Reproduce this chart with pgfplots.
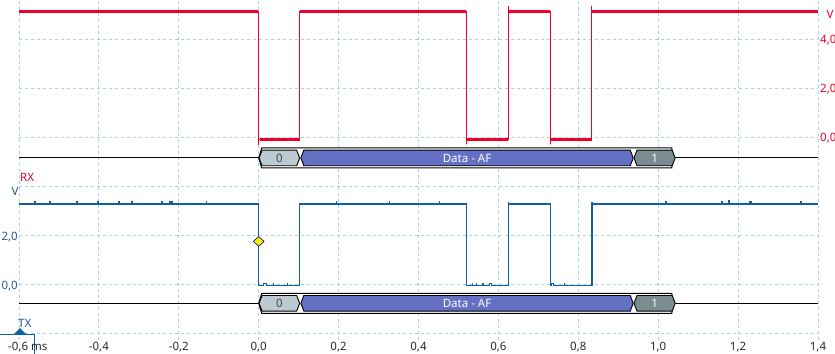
\documentclass[border=0pt]{standalone}
\usepackage{pgfplots}
\pgfplotsset{compat=1.18}
\usepackage{fontspec}
\setmainfont{Noto Sans}
\definecolor{rxred}{RGB}{238,0,40}
\definecolor{txblue}{RGB}{16,96,168}
\definecolor{txlab}{RGB}{30,90,160}
\definecolor{gridc}{RGB}{165,212,226}
\definecolor{seg0}{RGB}{188,202,210}
\definecolor{segd}{RGB}{100,112,196}
\definecolor{seg1}{RGB}{122,140,144}
\definecolor{ticktxt}{RGB}{40,40,40}
\definecolor{zerotxt}{RGB}{64,72,80}
\pgfplotsset{common/.style={width=799bp,height=340bp,scale only axis,
  xmin=-0.6,xmax=1.4, axis line style={draw=none}, major tick length=0pt,
  tick style={draw=none}, clip=false, at={(0,0)}, anchor=south west}}
\begin{document}
\fontsize{11.5bp}{13bp}\selectfont
\begin{tikzpicture}
\useasboundingbox (-19bp,-14bp) rectangle (816bp,340bp);
% ---------- RX axis (grid, right labels, x labels) ----------
\begin{axis}[common, ymin=-8.2857, ymax=5.5918,
  xtick={-0.6,-0.4,-0.2,0,0.2,0.4,0.6,0.8,1.0,1.2,1.4},
  xticklabels={{},{-0,4},{-0,2},{0,0},{0,2},{0,4},{0,6},{0,8},{1,0},{1,2},{1,4}},
  ytick={-8,-6,-4,-2,0,2,4},
  yticklabels={{},{},{},{},{0,0},{2,0},{4,0}},
  yticklabel pos=right,
  grid=major, grid style={dash pattern=on 3bp off 3bp, color=gridc, line width=0.9bp},
  x tick label style={anchor=base, yshift=-10bp, text=ticktxt, inner sep=0pt},
  y tick label style={anchor=base west, xshift=2bp, yshift=-4.2bp, text=rxred, inner sep=0pt},
  unbounded coords=jump]
\addplot[rxred, line width=1bp] coordinates {(-0.6,5.12)(0,5.12)(0,-0.33)(0,-0.09)(0.1025,-0.09)(0.1025,5.12)(0.52,5.12)(0.52,-0.30)(0.52,-0.09)(0.625,-0.09)(0.625,5.35)(0.625,5.12)(0.73,5.12)(0.73,-0.30)(0.73,-0.09)(0.834,-0.09)(0.834,5.35)(0.834,5.12)(1.4,5.12)};
\addplot[rxred, line width=2.7bp, line cap=butt] coordinates {(-0.6,5.12)(-0.001,5.12)(0,nan)(0.002,-0.09)(0.1025,-0.09)(0.11,nan)(0.1025,5.12)(0.52,5.12)(0.53,nan)(0.52,-0.09)(0.625,-0.09)(0.63,nan)(0.625,5.12)(0.73,5.12)(0.74,nan)(0.73,-0.09)(0.834,-0.09)(0.84,nan)(0.834,5.12)(1.4,5.12)};
\end{axis}
% ---------- TX axis (left labels) ----------
\begin{axis}[common, ymin=-2.2449, ymax=11.6327,
  xtick=\empty, ytick={0,2}, yticklabels={{0,0},{2,0}},
  y tick label style={anchor=base east, xshift=-1bp, yshift=-4.2bp, text=txlab, inner sep=0pt}]
\addplot[txblue, line width=1.4bp] coordinates {
(-0.6,3.3)
(-0.56,3.3)(-0.56,3.42)(-0.56,3.3)
(-0.5225,3.3)(-0.5225,3.42)(-0.5225,3.3)
(-0.455,3.3)(-0.455,3.42)(-0.455,3.3)
(-0.4025,3.3)(-0.4025,3.42)(-0.4025,3.3)
(-0.351,3.3)(-0.351,3.42)(-0.348,3.42)(-0.348,3.3)
(-0.3175,3.3)(-0.3175,3.42)(-0.3175,3.3)
(-0.2425,3.3)(-0.2425,3.42)(-0.2425,3.3)
(-0.2225,3.3)(-0.2225,3.42)(-0.2225,3.3)
(-0.2175,3.3)(-0.2175,3.42)(-0.2175,3.3)
(-0.13,3.3)(-0.13,3.42)(-0.13,3.3)
(0,3.3)(0,-0.02)
(0.0125,-0.02)(0.0125,0.06)(0.02,0.06)(0.02,-0.02)
(0.0375,-0.02)(0.0375,0.08)(0.0375,-0.02)
(0.0725,-0.02)(0.0725,0.08)(0.0725,-0.02)
(0.1025,-0.02)(0.1025,3.3)
(0.195,3.3)(0.195,3.42)(0.195,3.3)
(0.3275,3.3)(0.3275,3.42)(0.3275,3.3)
(0.4525,3.3)(0.4525,3.42)(0.4525,3.3)
(0.52,3.3)(0.52,-0.02)
(0.535,-0.02)(0.535,0.07)(0.535,-0.02)
(0.545,-0.02)(0.545,0.07)(0.545,-0.02)
(0.56,-0.02)(0.56,0.07)(0.5625,0.07)(0.5625,-0.02)
(0.5775,-0.02)(0.5775,0.07)(0.5825,0.07)(0.5825,-0.02)
(0.625,-0.02)(0.625,3.38)(0.625,3.3)
(0.73,3.3)(0.73,-0.02)
(0.7325,-0.02)(0.7325,0.07)(0.7375,0.07)(0.7375,-0.02)
(0.765,-0.02)(0.765,0.08)(0.765,-0.02)
(0.834,-0.02)(0.834,3.38)(0.834,3.3)
(1.02,3.3)(1.02,3.42)(1.02,3.3)
(1.16,3.3)(1.16,3.42)(1.16,3.3)
(1.176,3.3)(1.176,3.44)(1.179,3.44)(1.179,3.3)
(1.23,3.3)(1.23,3.42)(1.2325,3.42)(1.2325,3.3)
(1.3575,3.3)(1.3575,3.42)(1.3575,3.3)
(1.4,3.3)};
\addplot[only marks, mark=diamond*, mark size=4.8bp,
  mark options={xscale=1.5, fill=yellow, draw=blue!55!black, line width=0.6bp}]
  coordinates {(0,1.78)};
\end{axis}
% ---------- overlay in pixel units (decoders, labels) ----------
\begin{axis}[common, ymin=0, ymax=340, hide axis]
% RX decoder, centre 182
\draw[black, line width=1bp] (-0.6,182) -- (0,182);
\draw[black, line width=1bp] (1.0425,182) -- (1.4,182);
\draw[black, fill=white, line width=1bp] (0,182) -- (0.0075,192) -- (1.034,192) -- (1.034,172) -- (0.0075,172) -- cycle;
\draw[black, fill=seg0, line width=0.9bp] (0.001,182) -- (0.0085,189.8) -- (0.095,189.8) -- (0.1025,182) -- (0.095,174.2) -- (0.0085,174.2) -- cycle;
\draw[black, fill=segd, line width=0.9bp] (0.1055,182) -- (0.113,189.8) -- (0.93,189.8) -- (0.9375,182) -- (0.93,174.2) -- (0.113,174.2) -- cycle;
\draw[black, fill=seg1, line width=0.9bp] (0.9395,182) -- (0.947,189.8) -- (1.035,189.8) -- (1.0425,182) -- (1.035,174.2) -- (0.947,174.2) -- cycle;
\node[text=zerotxt, inner sep=0pt] at (0.052,182) {0};
\node[text=white, inner sep=0pt] at (0.5215,182) {Data - AF};
\node[text=white, inner sep=0pt] at (0.991,182) {1};
% TX decoder, centre 36.7
\draw[black, line width=1bp] (-0.6,36.7) -- (0,36.7);
\draw[black, line width=1bp] (1.0425,36.7) -- (1.4,36.7);
\draw[black, fill=white, line width=1bp] (0,36.7) -- (0.0075,46.7) -- (1.034,46.7) -- (1.034,26.7) -- (0.0075,26.7) -- cycle;
\draw[black, fill=seg0, line width=0.9bp] (0.001,36.7) -- (0.0085,44.5) -- (0.095,44.5) -- (0.1025,36.7) -- (0.095,28.9) -- (0.0085,28.9) -- cycle;
\draw[black, fill=segd, line width=0.9bp] (0.1055,36.7) -- (0.113,44.5) -- (0.93,44.5) -- (0.9375,36.7) -- (0.93,28.9) -- (0.113,28.9) -- cycle;
\draw[black, fill=seg1, line width=0.9bp] (0.9395,36.7) -- (0.947,44.5) -- (1.035,44.5) -- (1.0425,36.7) -- (1.035,28.9) -- (0.947,28.9) -- cycle;
\node[text=zerotxt, inner sep=0pt] at (0.052,36.7) {0};
\node[text=white, inner sep=0pt] at (0.5215,36.7) {Data - AF};
\node[text=white, inner sep=0pt] at (0.991,36.7) {1};
% channel labels
\node[text=rxred, anchor=west, inner sep=0pt] at (-0.5975,162.5) {RX};
\node[text=txlab, inner sep=0pt] at (-0.61,149) {V};
\node[text=rxred, inner sep=0pt] at (1.43,326) {V};
\node[text=txlab, anchor=west, inner sep=0pt] at (-0.6025,17) {TX};
\fill[txblue] (-0.5975,12) -- (-0.6125,6) -- (-0.5825,6) -- cycle;
\draw[txblue, line width=1bp] (-0.65,6) -- (-0.56,6) -- (-0.56,-15);
\node[text=ticktxt, anchor=base west, inner sep=0pt] at (-0.6275,-10) {-0,6 ms};
\end{axis}
\end{tikzpicture}
\end{document}
